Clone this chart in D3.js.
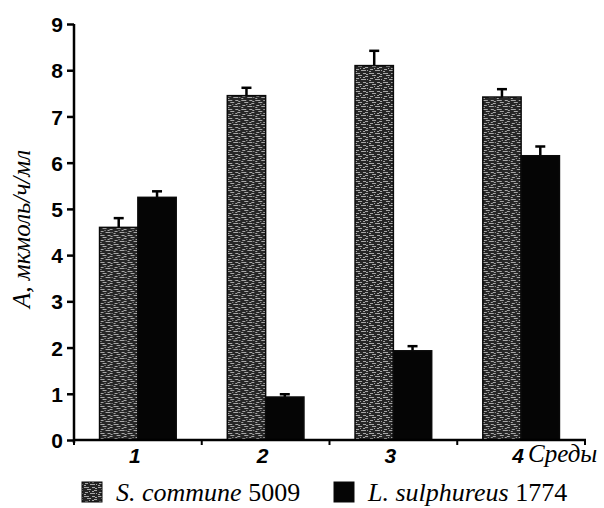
<!DOCTYPE html>
<html><head><meta charset="utf-8">
<script src="https://cdn.jsdelivr.net/npm/d3@7"></script>
</head><body style="margin:0">
<svg id="s" width="604" height="508" style="background:#fff"></svg>
<script>
// ---- data ----
const categories = ["1", "2", "3", "4"];
const seriesNames = ["S. commune 5009", "L. sulphureus 1774"];
const communeValues = [4.6, 7.45, 8.1, 7.42];
const communeErrors = [0.2, 0.17, 0.32, 0.17];
const sulphureusValues = [5.25, 0.93, 1.93, 6.15];
const sulphureusErrors = [0.13, 0.06, 0.1, 0.2];
const yTicks = [0, 1, 2, 3, 4, 5, 6, 7, 8, 9];
const yTitle = "A, мкмоль/ч/мл";
const xTitle = "Среды";

const SERIF = "Tinos, 'Times New Roman', 'Liberation Serif', 'DejaVu Serif', serif";
const SANS = "Arimo, Arial, 'Liberation Sans', sans-serif";

const series = [
  {key: "commune", name: seriesNames[0], values: communeValues, errors: communeErrors},
  {key: "sulphureus", name: seriesNames[1], values: sulphureusValues, errors: sulphureusErrors}
];

const svg = d3.select("#s");

const defs = svg.append("defs");
// speckled texture for the grey series
const pat = defs.append("pattern").attr("id", "speckle")
  .attr("patternUnits", "userSpaceOnUse").attr("width", 14).attr("height", 9);
pat.append("rect").attr("width", 14).attr("height", 9).attr("fill", "#262626");
[[0,1,5,1],[8,1,3,1],[3,3,4,1],[10,4,3,1],[1,6,3,1],[6,7,5,1],[12,7,1,1],[5,5,1,1],[11,2,2,1],[0,8,2,1],[8,5,2,1]]
  .forEach(([x,y,w,h]) => pat.append("rect").attr("x",x).attr("y",y).attr("width",w).attr("height",h).attr("fill","#a8a8a8"));

const fills = {commune: "url(#speckle)", sulphureus: "#050505"};

const x0 = d3.scaleBand().domain(categories).range([74, 585]).paddingInner(0.4).paddingOuter(0.2);
const x1 = d3.scaleBand().domain(series.map(s => s.key)).range([0, x0.bandwidth()]);
const y = d3.scaleLinear().domain([0, 9]).range([440, 24]);

// bars
const groups = svg.append("g").selectAll("g").data(categories).join("g")
  .attr("transform", d => `translate(${x0(d)},0)`);

groups.each(function(cat, i) {
  const g = d3.select(this);
  series.forEach(s => {
    const v = s.values[i], e = s.errors[i];
    const bx = x1(s.key), bw = x1.bandwidth();
    const cx = bx + bw / 2;
    g.append("line").attr("x1", cx).attr("x2", cx).attr("y1", y(v)).attr("y2", y(v + e))
      .attr("stroke", "#000").attr("stroke-width", 2.5);
    g.append("line").attr("x1", cx - 5).attr("x2", cx + 5).attr("y1", y(v + e)).attr("y2", y(v + e))
      .attr("stroke", "#000").attr("stroke-width", 2.5);
    g.append("rect").attr("x", bx).attr("y", y(v)).attr("width", bw).attr("height", y(0) - y(v))
      .attr("fill", fills[s.key]).attr("stroke", "#0a0a0a").attr("stroke-width", 1.5);
  });
});

// y axis
const yAxis = svg.append("g").attr("transform", "translate(74,0)")
  .call(d3.axisLeft(y).tickValues(yTicks).tickFormat(d3.format("d")).tickSize(7).tickPadding(4));
yAxis.attr("font-family", null).attr("font-size", null);
yAxis.select(".domain").attr("stroke-width", 2.5).attr("d", "M0,24V443");
yAxis.selectAll(".tick line").attr("stroke-width", 2.5);
yAxis.selectAll(".tick text").style("font-family", SANS)
  .style("font-weight", "bold").style("font-size", "21px").attr("fill", "#000").attr("dy", "0.36em");

// x axis line with boundary ticks
const xAxisG = svg.append("g");
xAxisG.append("line").attr("x1", 73).attr("x2", 586).attr("y1", y(0)).attr("y2", y(0))
  .attr("stroke", "#000").attr("stroke-width", 2.5);
const bounds = categories.map(c => x0(c) - x0.step() * x0.paddingInner() / 2);
bounds[0] = 74;
bounds.push(585);
xAxisG.selectAll("line.b").data(bounds).join("line").attr("class", "b")
  .attr("x1", d => d).attr("x2", d => d).attr("y1", y(0)).attr("y2", y(0) + 5)
  .attr("stroke", "#000").attr("stroke-width", 2);
xAxisG.selectAll("text.cat").data(categories).join("text").attr("class", "cat")
  .attr("x", d => x0(d) + x0.bandwidth() / 2 - 3).attr("y", 463)
  .attr("text-anchor", "middle").style("font-family", SANS)
  .style("font-weight", "bold").style("font-style", "italic").style("font-size", "21px").text(d => d);

// x title
svg.append("text").attr("x", 528).attr("y", 462)
  .style("font-family", SERIF).style("font-style", "italic").style("font-size", "25px").text(xTitle);

// y title
svg.append("text").attr("transform", "translate(30,229) rotate(-90)")
  .attr("text-anchor", "middle")
  .style("font-family", SERIF).style("font-style", "italic").style("font-size", "25px").text(yTitle);

// legend
const legendX = [82, 334];
series.forEach((s, i) => {
  svg.append("rect").attr("x", legendX[i]).attr("y", 482).attr("width", 20).attr("height", 20)
    .attr("fill", fills[s.key]).attr("stroke", "#0a0a0a").attr("stroke-width", 1);
  const parts = s.name.split(" ");
  const num = parts.pop();
  const t = svg.append("text").attr("x", legendX[i] + 34).attr("y", 501)
    .style("font-family", SERIF).style("font-size", "26px");
  t.append("tspan").style("font-style", "italic").text(parts.join(" ") + " ");
  t.append("tspan").text(num);
});
</script>
</body></html>
